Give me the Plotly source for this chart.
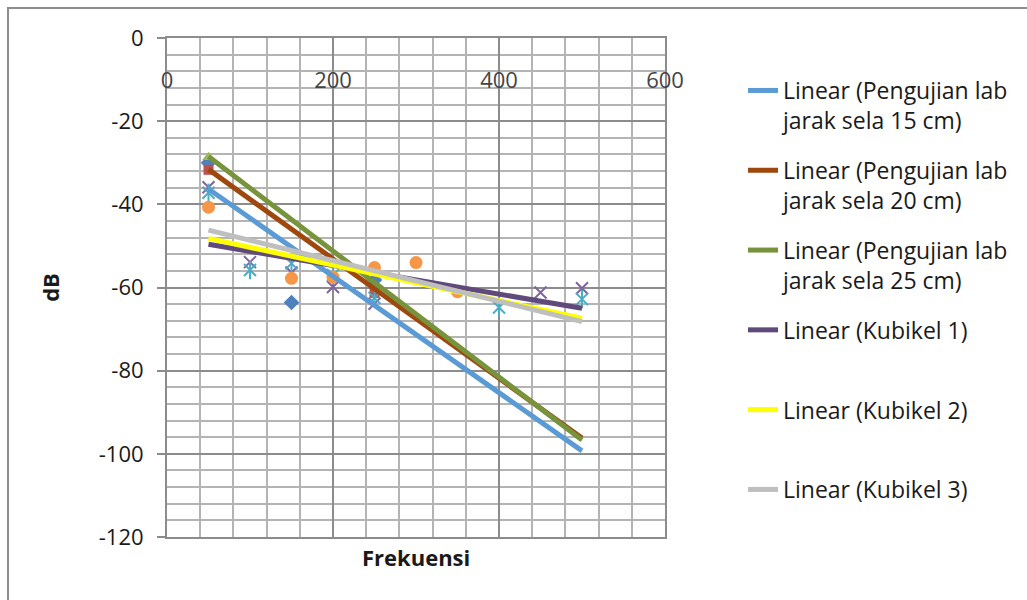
import plotly.graph_objects as go

# ---- measured samples (frequency vs. level in dB) ----
freq_lab15 = [50, 150, 250]
db_lab15 = [-30.0, -63.6, -58.2]

freq_lab20 = [50, 250]
db_lab20 = [-31.7, -61.3]

freq_lab25 = [50]
db_lab25 = [-28.7]

freq_kub1 = [50, 100, 150, 200, 250, 450, 500]
db_kub1 = [-35.9, -53.9, -56.4, -59.9, -63.9, -61.2, -60.2]

freq_kub2 = [50, 100, 150, 200, 250, 400, 500]
db_kub2 = [-37.2, -55.8, -54.2, -57.0, -62.5, -64.8, -62.8]

freq_kub3 = [50, 150, 200, 250, 300, 350]
db_kub3 = [-40.7, -57.8, -57.5, -55.2, -54.0, -61.0]

# ---- linear trend lines (start / end values) ----
trend_freq = [50, 500]
trend_lab15 = [-36.3, -99.3]
trend_lab20 = [-31.6, -96.2]
trend_lab25 = [-28.5, -96.7]
trend_kub1 = [-49.6, -65.0]
trend_kub2 = [-48.2, -67.4]
trend_kub3 = [-46.2, -68.2]

trend_names = [
    "Linear (Pengujian lab<br>jarak sela 15 cm)",
    "Linear (Pengujian lab<br>jarak sela 20 cm)",
    "Linear (Pengujian lab<br>jarak sela 25 cm)",
    "Linear (Kubikel 1)<br> ",
    "Linear (Kubikel 2)<br> ",
    "Linear (Kubikel 3)<br> ",
]

y_tickvals = [0, -20, -40, -60, -80, -100, -120]
y_ticktext = ["0", "-20", "-40", "-60", "-80", "-100", "-120"]
x_tickvals = [0, 200, 400, 600]
x_ticktext = ["0", "200", "400", "600"]

FONT = "Open Sans"
W, H = 1027, 600
ML, MR, MT, MB = 167, 362, 38, 63

fig = go.Figure()

# sample markers
marker_sets = [
    (freq_lab15, db_lab15, dict(symbol="diamond", size=12, color="#4F81BD")),
    (freq_lab20, db_lab20, dict(symbol="square", size=10, color="#C0504D")),
    (freq_lab25, db_lab25, dict(symbol="triangle-up", size=11, color="#9BBB59")),
    (freq_kub1, db_kub1, dict(symbol="x-thin-open", size=12, color="#8064A2",
                              line=dict(color="#8064A2", width=2))),
    (freq_kub2, db_kub2, dict(symbol="x-thin-open", size=12, color="#4BACC6",
                              line=dict(color="#4BACC6", width=2))),
    (freq_kub2, db_kub2, dict(symbol="line-ns-open", size=13, color="#4BACC6",
                              line=dict(color="#4BACC6", width=2))),
    (freq_kub3, db_kub3, dict(symbol="circle", size=13, color="#F79646")),
]
for xs, ys, mk in marker_sets:
    fig.add_trace(go.Scatter(x=xs, y=ys, mode="markers", marker=mk,
                             showlegend=False, hoverinfo="skip"))

# trend lines
trend_vals = [trend_lab15, trend_lab20, trend_lab25, trend_kub1, trend_kub2, trend_kub3]
trend_colors = ["#5B9BD5", "#9E480E", "#77933C", "#604A7B", "#FFFF00", "#BFBFBF"]
for i, (vals, col, name) in enumerate(zip(trend_vals, trend_colors, trend_names)):
    fig.add_trace(go.Scatter(x=trend_freq, y=vals, mode="lines", name=name,
                             legendgroup=f"g{i}",
                             line=dict(color=col, width=5)))

major_grid = "#8C8C8C"
minor_grid = "#B4B4B4"

fig.update_layout(
    width=W, height=H,
    margin=dict(l=ML, r=MR, t=MT, b=MB),
    paper_bgcolor="white",
    plot_bgcolor="white",
    font=dict(family=FONT, size=22, color="#1A1A1A"),
    xaxis=dict(
        range=[0, 600], side="top",
        tickmode="array", tickvals=x_tickvals, ticktext=x_ticktext,
        ticklabelposition="inside", ticklabelstandoff=36, ticks="",
        ticklabeloverflow="allow",
        showgrid=True, gridcolor=major_grid, gridwidth=2,
        minor=dict(tickmode="linear", tick0=0, dtick=40, showgrid=True,
                   gridcolor=minor_grid, gridwidth=1.5),
        showline=True, linecolor=major_grid, linewidth=2, mirror=True,
        zeroline=False,
    ),
    yaxis=dict(
        range=[-120, 0],
        tickmode="array", tickvals=y_tickvals, ticktext=y_ticktext,
        ticks="outside", ticklen=8, tickcolor=major_grid, tickwidth=2,
        ticklabelstandoff=9, ticklabeloverflow="allow",
        showgrid=True, gridcolor=major_grid, gridwidth=2,
        minor=dict(tickmode="linear", tick0=0, dtick=4, showgrid=True,
                   gridcolor=minor_grid, gridwidth=1.5),
        showline=True, linecolor=major_grid, linewidth=2, mirror=True,
        zeroline=False,
        title=dict(text="<b>dB</b>", standoff=33, font=dict(size=22)),
    ),
    legend=dict(
        x=(743 - ML) / (W - ML - MR), xanchor="left",
        y=(H - MB - 69) / (H - MT - MB), yanchor="top",
        font=dict(size=23, family=FONT, color="#1A1A1A"),
        valign="top", tracegroupgap=17, bgcolor="rgba(0,0,0,0)",
    ),
    annotations=[
        dict(text="<b>Frekuensi</b>", xref="paper", yref="paper",
             x=0.5, y=-(557 - (H - MB)) / (H - MT - MB),
             xanchor="center", yanchor="middle", showarrow=False,
             font=dict(size=22, family=FONT, color="#1A1A1A")),
    ],
)

# outer chart border
pw, ph = W - ML - MR, H - MT - MB
fig.add_shape(type="rect", xref="paper", yref="paper",
              x0=(8 - ML) / pw, x1=(W + 10 - ML) / pw,
              y0=-(H + 10 - (H - MB)) / ph, y1=(H - MB - 8) / ph,
              line=dict(color="#8C8C8C", width=2), layer="below")

fig.write_html("out.html")
